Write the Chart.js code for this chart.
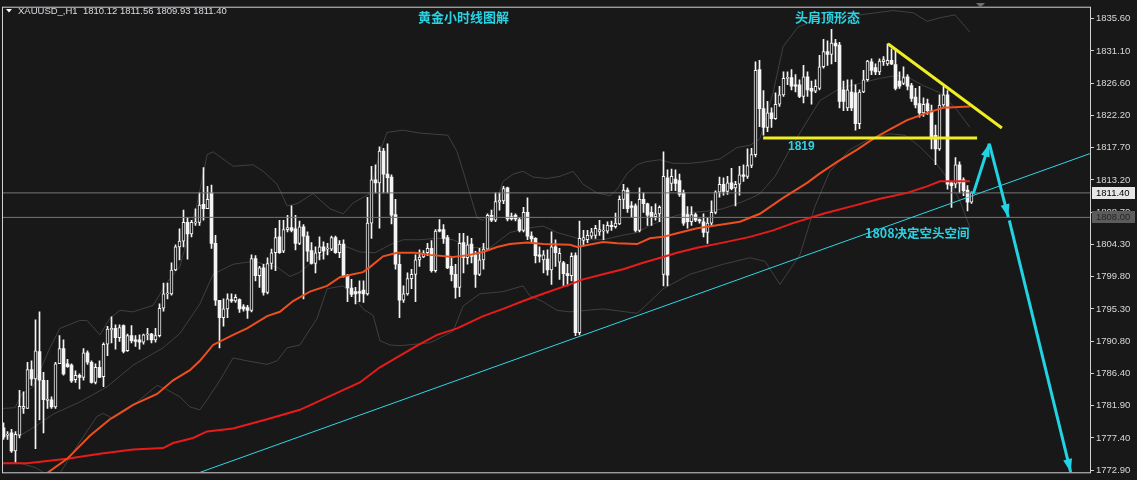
<!DOCTYPE html>
<html><head><meta charset="utf-8">
<script src="https://cdn.jsdelivr.net/npm/chart.js@4/dist/chart.umd.min.js"></script>
<style>html,body{margin:0;padding:0;background:#181818;overflow:hidden}#wrap{width:1137px;height:480px}</style>
</head><body><div id="wrap"><canvas id="c" width="1137" height="480"></canvas></div>
<script>
// ---------------- data ----------------
const symbolTitle = 'XAUUSD_,H1';
const lastBar = [1810.12, 1811.56, 1809.93, 1811.40];

const openP = [
1778.8,1777.8,1778.1,1775.6,1777.8,1781.5,1781.5,1786.9,1785.6,1789.4,
1785.4,1782.6,1782.7,1781.7,1787.7,1789.8,1787.7,1787.5,1785.5,1786.1,
1785.8,1789.2,1787.9,1785.1,1787.2,1785.9,1790.4,1792.4,1792.6,1791.3,
1793.0,1789.5,1791.6,1791.0,1791.0,1790.7,1791.7,1791.8,1791.0,1791.6,
1795.4,1797.4,1797.4,1800.7,1803.9,1804.7,1807.3,1805.7,1807.2,1807.3,
1809.8,1809.2,1811.4,1804.4,1796.5,1794.1,1795.3,1796.6,1796.4,1796.6,
1795.6,1795.5,1795.1,1802.3,1799.9,1801.0,1797.6,1801.6,1803.1,1805.3,
1803.3,1806.3,1806.6,1806.4,1804.4,1806.7,1805.4,1803.4,1801.6,1803.1,
1803.9,1803.6,1803.6,1805.2,1803.1,1804.3,1799.9,1798.2,1797.7,1797.7,
1797.9,1797.4,1807.2,1813.2,1812.8,1817.2,1814.0,1813.6,1808.4,1801.5,
1796.5,1797.4,1799.5,1800.1,1802.1,1802.5,1803.1,1803.7,1800.6,1806.3,
1806.3,1805.2,1801.2,1800.1,1798.3,1804.5,1802.4,1804.3,1802.8,1800.1,
1802.1,1803.6,1808.3,1807.6,1810.1,1810.3,1812.1,1808.1,1808.3,1807.7,
1806.2,1808.7,1805.4,1805.1,1802.8,1802.1,1802.2,1800.7,1803.9,1801.8,
1801.7,1800.2,1799.9,1802.7,1792.0,1804.8,1804.9,1805.4,1805.5,1806.0,
1806.1,1806.1,1806.9,1806.7,1807.1,1810.5,1811.8,1809.6,1809.6,1806.2,
1810.5,1809.9,1808.7,1808.1,1808.5,1800.1,1813.5,1812.7,1813.3,1813.1,
1811.4,1808.4,1807.4,1808.4,1807.7,1807.4,1805.9,1807.2,1808.7,1811.5,
1812.6,1811.6,1812.8,1812.1,1812.6,1813.9,1813.7,1815.2,1816.7,1828.5,
1823.1,1820.5,1822.5,1821.7,1823.7,1825.0,1827.3,1827.4,1826.4,1826.4,
1824.8,1827.5,1825.9,1825.5,1825.9,1828.9,1831.0,1830.6,1832.2,1831.9,
1825.7,1823.2,1825.4,1825.3,1821.0,1825.4,1827.1,1829.6,1828.8,1828.2,
1829.6,1829.3,1829.8,1829.2,1826.9,1826.6,1827.5,1826.3,1824.7,1823.8,
1822.5,1823.8,1822.8,1819.4,1817.5,1823.6,1825.0,1812.8,1812.6,1815.3,
1813.2,1811.8,1810.12];

const highP = [
1779.5,1778.3,1778.6,1778.3,1784.0,1783.8,1787.9,1788.1,1793.8,1794.9,
1786.5,1785.4,1783.1,1787.9,1791.6,1791.0,1788.3,1787.7,1786.7,1786.3,
1789.8,1789.5,1788.1,1787.7,1788.1,1790.6,1792.9,1794.2,1793.1,1793.1,
1793.1,1791.8,1793.0,1791.6,1791.7,1791.8,1792.6,1791.9,1792.6,1796.0,
1798.9,1798.9,1801.7,1804.2,1806.4,1809.0,1808.0,1807.6,1809.2,1811.4,
1814.9,1812.3,1812.5,1805.5,1796.5,1796.7,1797.4,1797.4,1797.3,1796.7,
1795.9,1795.8,1802.8,1802.7,1801.2,1801.5,1802.4,1803.6,1806.5,1807.6,
1807.6,1808.3,1809.6,1808.3,1807.5,1807.0,1806.0,1804.5,1803.9,1805.3,
1804.6,1804.4,1805.4,1805.4,1804.8,1804.9,1800.1,1799.4,1798.3,1799.2,
1799.2,1810.8,1815.1,1815.3,1817.8,1817.6,1818.2,1813.9,1810.5,1802.8,
1798.5,1800.3,1800.8,1802.8,1803.5,1803.4,1804.4,1804.8,1806.3,1807.7,
1807.0,1805.5,1802.4,1801.5,1805.8,1805.8,1805.4,1805.1,1803.3,1803.7,
1804.4,1808.5,1809.0,1811.4,1811.4,1812.3,1812.2,1808.6,1808.5,1808.0,
1809.4,1810.7,1806.0,1805.2,1803.9,1803.4,1803.5,1806.0,1804.9,1803.7,
1801.9,1801.5,1803.1,1803.1,1807.5,1806.2,1806.2,1806.5,1806.9,1807.6,
1807.0,1807.4,1807.5,1808.6,1811.0,1812.6,1812.1,1810.2,1809.9,1812.1,
1811.4,1810.0,1809.5,1809.9,1809.6,1817.1,1814.6,1814.7,1814.6,1814.0,
1811.8,1809.5,1809.5,1808.6,1807.8,1808.5,1808.0,1810.3,1811.7,1813.6,
1813.5,1813.7,1814.8,1813.0,1815.1,1815.3,1817.5,1817.6,1829.6,1829.8,
1825.6,1824.1,1823.2,1825.3,1826.2,1828.2,1828.2,1828.5,1827.8,1827.1,
1829.1,1828.2,1826.9,1827.1,1830.5,1832.7,1832.5,1834.1,1832.7,1832.3,
1826.9,1827.1,1827.1,1826.4,1825.7,1828.4,1829.8,1830.0,1829.3,1830.0,
1830.3,1832.1,1831.4,1831.4,1828.2,1828.9,1827.8,1826.6,1825.9,1826.2,
1824.6,1824.4,1823.6,1820.8,1825.0,1826.2,1825.6,1813.0,1816.3,1815.7,
1813.5,1812.4,1811.56];

const lowP = [
1777.2,1777.2,1775.4,1774.0,1777.4,1780.8,1781.5,1784.7,1775.9,1779.9,
1778.1,1781.5,1781.5,1781.5,1787.7,1786.1,1787.2,1785.1,1785.1,1784.2,
1785.4,1787.6,1785.0,1784.9,1785.8,1784.5,1788.8,1790.6,1789.7,1790.8,
1789.2,1789.4,1790.6,1790.1,1789.7,1790.4,1791.0,1790.6,1790.7,1791.4,
1795.0,1796.7,1797.2,1800.6,1802.1,1803.9,1802.2,1805.3,1806.9,1806.9,
1807.6,1809.2,1803.7,1795.8,1789.9,1792.9,1794.1,1796.2,1796.2,1794.8,
1795.0,1794.0,1794.9,1799.2,1798.3,1797.2,1797.4,1800.8,1800.6,1803.0,
1803.1,1806.0,1806.0,1803.5,1804.2,1796.7,1801.9,1801.5,1800.3,1802.1,
1802.2,1802.8,1803.4,1803.0,1802.4,1799.7,1796.3,1797.0,1796.0,1796.3,
1796.2,1797.2,1805.1,1811.4,1806.5,1811.4,1811.4,1807.1,1800.8,1794.1,
1796.2,1797.2,1798.1,1796.3,1801.2,1802.4,1802.7,1800.4,1800.4,1806.0,
1804.4,1800.9,1799.2,1796.8,1797.0,1800.3,1801.5,1801.7,1798.3,1799.9,
1800.8,1803.5,1807.4,1807.4,1809.0,1809.9,1807.5,1807.6,1807.5,1806.0,
1806.0,1804.9,1804.5,1801.7,1801.8,1800.3,1800.0,1798.7,1801.2,1799.4,
1798.4,1798.5,1799.2,1791.6,1791.7,1804.0,1804.5,1805.1,1805.1,1805.5,
1804.9,1805.8,1806.2,1806.5,1807.0,1809.2,1808.7,1808.0,1806.0,1806.0,
1808.7,1806.9,1806.9,1807.6,1807.4,1798.5,1798.5,1811.7,1811.7,1810.9,
1806.9,1806.5,1806.9,1807.4,1807.2,1805.3,1804.4,1806.9,1808.5,1810.8,
1811.1,1811.2,1811.8,1809.6,1811.1,1813.0,1813.4,1814.9,1816.4,1820.6,
1819.4,1819.9,1820.5,1821.6,1823.4,1824.8,1826.4,1825.7,1825.4,1824.6,
1823.9,1824.8,1823.7,1825.3,1825.7,1828.7,1829.1,1829.3,1829.6,1823.2,
1822.8,1822.8,1822.8,1820.1,1820.3,1825.3,1826.9,1827.8,1827.8,1827.8,
1829.1,1829.1,1829.2,1825.7,1825.9,1826.4,1825.7,1824.1,1823.2,1821.9,
1822.0,1822.3,1817.5,1815.3,1817.3,1823.4,1811.9,1809.4,1812.1,1811.4,
1811.0,1808.9,1809.93];

const closeP = [
1777.5,1777.9,1775.6,1777.9,1781.8,1781.8,1786.9,1785.6,1789.5,1785.4,
1782.7,1782.8,1781.7,1787.7,1789.8,1786.3,1787.3,1785.3,1786.1,1785.8,
1789.2,1787.9,1785.1,1787.2,1785.8,1790.4,1792.5,1792.6,1791.3,1792.7,
1789.4,1791.6,1790.9,1790.8,1790.7,1791.7,1791.8,1791.0,1791.6,1795.4,
1797.4,1797.5,1800.7,1803.9,1804.7,1807.3,1805.7,1807.3,1807.4,1809.7,
1809.2,1810.5,1804.4,1796.5,1794.1,1795.3,1796.7,1796.4,1796.9,1795.3,
1795.3,1795.1,1802.3,1799.9,1801.0,1797.6,1801.6,1803.1,1805.2,1803.1,
1806.3,1806.6,1806.2,1804.4,1806.7,1805.4,1803.3,1801.6,1803.1,1803.9,
1803.3,1803.7,1805.2,1803.1,1804.3,1799.9,1798.2,1797.3,1797.4,1797.5,
1797.4,1807.2,1813.2,1812.8,1817.2,1814.0,1813.5,1808.3,1801.5,1796.5,
1797.4,1799.5,1800.1,1802.1,1802.5,1803.1,1803.7,1800.6,1806.1,1806.1,
1805.1,1801.0,1800.1,1798.3,1804.4,1802.4,1804.2,1802.6,1800.1,1802.1,
1803.6,1808.3,1807.6,1810.2,1810.4,1812.0,1807.8,1807.8,1807.8,1806.2,
1808.7,1805.4,1805.0,1802.7,1802.6,1802.8,1800.7,1803.9,1803.1,1803.0,
1800.2,1799.9,1802.6,1792.0,1805.1,1805.2,1805.5,1806.0,1806.5,1806.3,
1806.2,1806.9,1806.7,1807.2,1810.5,1811.8,1809.2,1809.4,1806.2,1810.5,
1809.9,1808.3,1808.1,1808.5,1809.4,1813.7,1800.0,1813.7,1812.7,1811.2,
1807.2,1807.4,1808.4,1807.6,1807.5,1805.9,1807.2,1808.7,1811.5,1812.6,
1811.6,1812.8,1812.0,1812.6,1813.9,1813.7,1815.2,1816.7,1828.4,1823.1,
1820.5,1822.5,1821.7,1823.7,1825.0,1827.3,1827.4,1826.2,1826.2,1824.8,
1827.5,1825.7,1825.5,1826.2,1828.9,1831.0,1830.6,1832.2,1831.8,1824.1,
1824.1,1825.7,1823.2,1821.0,1825.4,1827.1,1829.7,1828.4,1828.2,1829.7,
1829.9,1829.8,1829.3,1825.9,1826.2,1827.4,1826.2,1824.5,1823.6,1822.5,
1823.7,1822.8,1818.9,1817.5,1823.6,1825.0,1812.6,1812.4,1815.3,1812.8,
1811.7,1810.1,1811.40];

const yTicks = [1772.90,1777.40,1781.90,1786.40,1790.80,1795.30,1799.80,1804.30,1808.70,1813.20,1817.70,1822.20,1826.60,1831.10,1835.60];
const priceLines = [1811.40, 1808.00];

// Bollinger bands [bar index, price]
const bbUpper = [[-0.1,1781.5],[2.9,1781.6],[4.6,1783.5],[7.4,1784.5],[11.6,1789.9],[14.1,1792.6],[19.1,1793.7],[20.9,1793.7],[24.1,1791.7],[26.6,1794.0],[29.1,1795.1],[32.4,1794.9],[37.4,1795.8],[40.9,1799.0],[44.1,1801.2],[46.6,1806.2],[48.4,1809.9],[50.9,1816.7],[52.4,1817.1],[57.4,1815.1],[62.4,1815.3],[64.9,1814.4],[68.4,1812.6],[70.9,1809.6],[73.4,1809.9],[77.4,1811.3],[81.6,1809.2],[84.9,1808.5],[87.4,1810.0],[91.6,1811.3],[94.1,1817.1],[95.9,1819.8],[99.9,1820.1],[104.1,1819.7],[111.1,1819.4],[113.4,1817.1],[115.9,1812.6],[118.4,1807.9],[119.9,1807.6],[122.4,1808.9],[124.9,1813.0],[127.4,1814.0],[129.9,1814.4],[132.4,1813.6],[135.9,1813.4],[139.1,1813.7],[142.4,1814.4],[144.9,1812.6],[148.4,1811.4],[151.6,1811.0],[153.4,1811.9],[155.9,1814.1],[158.4,1815.3],[160.4,1815.7],[164.1,1816.0],[167.4,1815.5],[171.6,1815.5],[174.9,1815.7],[179.1,1816.1],[183.4,1817.7],[186.6,1818.0],[189.1,1818.9],[192.4,1825.3],[194.9,1831.7],[198.6,1834.4],[203.4,1835.5],[208.4,1835.9],[214.1,1836.1],[222.4,1836.7],[227.4,1836.4],[230.9,1835.2],[234.1,1835.7],[237.9,1836.1],[241.6,1833.7]];
const bbMiddle = [[-0.1,1777.7],[4.1,1777.7],[7.9,1779.0],[12.4,1780.7],[19.1,1782.4],[25.9,1784.5],[32.4,1787.5],[39.9,1789.9],[44.1,1791.9],[49.1,1796.0],[52.4,1800.1],[57.4,1801.5],[62.4,1801.9],[68.4,1801.1],[71.6,1799.8],[74.1,1800.4],[78.4,1802.4],[82.4,1803.5],[85.9,1803.9],[89.1,1803.2],[92.9,1803.1],[96.6,1804.2],[99.9,1804.9],[104.1,1804.9],[108.4,1805.1],[112.4,1804.9],[116.6,1803.8],[121.6,1803.8],[126.6,1805.9],[130.9,1806.5],[134.9,1806.8],[138.4,1805.9],[141.6,1805.4],[144.9,1804.9],[149.9,1804.9],[154.6,1805.5],[158.4,1805.9],[161.6,1806.9],[164.9,1807.6],[168.4,1808.3],[172.4,1808.7],[176.6,1808.9],[179.9,1809.2],[183.4,1809.9],[186.6,1810.6],[189.1,1811.3],[192.9,1813.7],[196.6,1817.4],[200.4,1820.9],[204.1,1824.2],[209.1,1825.9],[214.1,1826.6],[219.1,1827.3],[223.4,1827.7],[226.6,1827.3],[229.9,1826.3],[234.1,1825.3],[237.9,1823.2],[241.6,1820.5]];
const bbLower = [[-0.1,1773.9],[4.1,1773.9],[7.9,1773.3],[10.4,1772.5],[14.1,1772.5],[16.6,1774.7],[18.4,1776.3],[23.4,1780.4],[24.9,1780.8],[27.4,1780.1],[30.9,1781.3],[34.1,1782.7],[38.4,1784.7],[40.9,1784.1],[44.1,1783.1],[46.6,1781.7],[49.1,1781.3],[50.9,1782.7],[54.1,1785.4],[57.4,1788.5],[60.9,1788.1],[65.9,1787.6],[68.4,1788.1],[70.9,1789.9],[74.1,1790.3],[78.4,1794.0],[80.9,1798.1],[84.9,1798.5],[87.4,1797.1],[89.9,1795.3],[92.4,1794.4],[94.1,1790.9],[96.6,1790.3],[99.1,1790.2],[106.6,1790.6],[112.4,1792.2],[114.9,1795.7],[119.1,1797.4],[124.9,1797.7],[129.9,1798.5],[131.6,1797.1],[134.9,1796.3],[138.4,1795.1],[141.6,1794.9],[149.9,1795.3],[158.4,1794.7],[161.6,1796.3],[164.9,1798.1],[171.6,1800.1],[179.9,1801.5],[186.6,1802.4],[190.4,1801.9],[194.1,1798.7],[199.1,1802.8],[202.9,1809.6],[206.6,1814.4],[211.6,1817.4],[216.6,1818.9],[221.6,1819.6],[225.4,1819.4],[229.1,1817.8],[232.9,1815.7],[236.6,1813.0],[239.1,1810.3],[241.6,1806.6]];

// Moving averages [bar index, price]
const maFast = [[10.0,1771.8],[11.1,1772.6],[15.9,1774.5],[21.6,1777.7],[26.6,1780.0],[32.4,1782.0],[38.4,1783.5],[42.4,1785.4],[46.6,1786.8],[49.1,1788.1],[52.4,1790.3],[57.4,1791.7],[60.9,1792.6],[65.9,1794.3],[69.1,1794.9],[72.4,1796.4],[76.6,1797.7],[80.9,1798.5],[84.1,1799.7],[87.4,1800.1],[89.9,1800.4],[91.6,1801.1],[94.9,1802.6],[98.4,1803.1],[102.9,1803.1],[106.6,1802.8],[112.4,1802.5],[116.6,1802.8],[119.9,1803.2],[123.4,1803.9],[126.6,1804.3],[130.9,1804.5],[134.9,1804.3],[141.6,1804.2],[143.4,1803.9],[149.9,1804.6],[153.4,1804.4],[158.4,1804.3],[161.6,1805.1],[164.9,1805.3],[168.4,1805.8],[173.4,1806.5],[178.4,1806.9],[184.1,1807.4],[189.1,1808.5],[194.9,1810.7],[200.9,1812.8],[204.1,1814.1],[208.4,1815.7],[213.4,1817.4],[217.4,1818.9],[221.6,1820.2],[225.9,1821.5],[230.9,1822.5],[234.9,1823.2],[241.6,1823.4]];
const maSlow = [[-0.1,1773.9],[5.9,1773.9],[15.9,1774.5],[24.1,1775.2],[32.4,1775.8],[39.9,1776.0],[42.4,1776.7],[47.4,1777.4],[50.9,1778.3],[57.4,1778.7],[65.9,1780.0],[74.1,1781.3],[82.4,1783.4],[89.1,1785.1],[94.1,1787.2],[103.4,1790.2],[108.4,1791.7],[113.4,1792.6],[119.9,1794.3],[124.9,1795.3],[129.9,1796.4],[134.9,1797.4],[141.6,1798.7],[144.9,1799.4],[149.9,1800.1],[154.9,1800.8],[159.9,1801.7],[164.9,1802.5],[168.4,1803.1],[173.4,1803.8],[179.9,1804.5],[186.6,1805.3],[192.4,1806.2],[197.4,1807.2],[204.9,1808.5],[212.4,1809.6],[219.1,1810.6],[225.9,1811.4],[230.9,1812.3],[234.1,1813.0],[241.6,1813.0]];

// Drawn analysis objects [bar index, price]
const trendSupport = [[49.0,1772.6],[271.6,1816.85]];
const neckline = [[189.9,1819.0],[243.4,1819.0]];
const shoulderLine = [[221.1,1832.1],[249.6,1820.4]];
const arrowUp = [[242.45,1811.3],[246.45,1818.23]];
const arrowDown1 = [[246.45,1818.23],[251.2,1808.03]];
const arrowDown2 = [[251.45,1807.58],[266.8,1772.67]];

const titleMain = '黄金小时线图解';
const titlePattern = '头肩顶形态';
const labelNeck = '1819';
const labelKey = '1808决定空头空间';

// ---------------- chart ----------------
const X_MIN = -0.125, X_MAX = 271.625, Y_MIN = 1772.633, Y_MAX = 1837.096;
const BG = '#181818', CANDLE = '#f4f4f4', CYAN = '#22d3e3', TEXT_CYAN = '#2ad2e2', YELLOW = '#eeee22';

const idx = openP.map((_, i) => i);
const isBull = idx.map(i => closeP[i] >= openP[i]);
const wickData = idx.map(i => ({x: i, y: [lowP[i], highP[i]]}));
const bodyData = idx.map(i => ({x: i, y: [Math.min(openP[i], closeP[i]), Math.max(openP[i], closeP[i])]}));
const pts = arr => arr.map(([x, y]) => ({x, y}));
const line = (label, arr, color, width, order, extra) => Object.assign({
  type: 'line', label, data: pts(arr), borderColor: color, backgroundColor: color,
  borderWidth: width, pointRadius: 0, tension: 0, fill: false, order
}, extra || {});

const datasets = [
  line('BB upper', bbUpper, '#404040', 1, 12),
  line('BB middle', bbMiddle, '#404040', 1, 12),
  line('BB lower', bbLower, '#404040', 1, 12),
  {type: 'bar', label: 'wick', data: wickData, backgroundColor: CANDLE, borderWidth: 0,
   barThickness: 1, grouped: false, order: 9},
  {type: 'bar', label: 'body', data: bodyData,
   backgroundColor: isBull.map(b => b ? BG : CANDLE), borderColor: CANDLE,
   borderWidth: isBull.map(b => b ? 1 : 0), borderSkipped: false,
   barThickness: 3, grouped: false, minBarLength: 1, order: 8},
  line('price1', [[X_MIN, priceLines[0]], [X_MAX, priceLines[0]]], '#767676', 1, 7),
  line('price2', [[X_MIN, priceLines[1]], [X_MAX, priceLines[1]]], '#767676', 1, 7),
  line('MA fast', maFast, '#ee4f1e', 2, 6),
  line('MA slow', maSlow, '#e81b1b', 2, 6),
  line('support', trendSupport, '#30d6e6', 1, 5),
  line('neckline', neckline, YELLOW, 3, 4),
  line('shoulder', shoulderLine, YELLOW, 3, 4),
  line('arrowUp', arrowUp, CYAN, 3, 3, {arrowHead: true}),
  line('arrowDown1', arrowDown1, CYAN, 3, 3, {arrowHead: true}),
  line('arrowDown2', arrowDown2, CYAN, 3, 3, {arrowHead: true})
];

const overlay = {
  id: 'overlay',
  beforeDraw(chart) {
    const c = chart.ctx;
    c.save(); c.fillStyle = BG; c.fillRect(0, 0, chart.width, chart.height); c.restore();
  },
  afterDatasetsDraw(chart) {
    const c = chart.ctx, a = chart.chartArea;
    c.save();
    c.beginPath(); c.rect(a.left, a.top, a.right - a.left, a.bottom - a.top); c.clip();
    chart.data.datasets.forEach((ds, di) => {
      if (!ds.arrowHead) return;
      const el = chart.getDatasetMeta(di).data;
      const p1 = el[el.length - 2], p2 = el[el.length - 1];
      const ang = Math.atan2(p2.y - p1.y, p2.x - p1.x);
      const L = 13, W = 4.5;
      const bx = p2.x - L * Math.cos(ang), by = p2.y - L * Math.sin(ang);
      c.fillStyle = ds.borderColor;
      c.beginPath();
      c.moveTo(p2.x, p2.y);
      c.lineTo(bx + W * Math.sin(ang), by - W * Math.cos(ang));
      c.lineTo(bx - W * Math.sin(ang), by + W * Math.cos(ang));
      c.closePath(); c.fill();
    });
    c.restore();
  },
  afterDraw(chart) {
    const c = chart.ctx, a = chart.chartArea, ys = chart.scales.y;
    c.save();
    // frame
    c.strokeStyle = '#d2d2d2'; c.lineWidth = 1;
    c.strokeRect(a.left - 0.5, a.top - 0.5, a.right - a.left + 1, a.bottom - a.top + 1);
    // price boxes
    c.font = '9.5px "Liberation Sans", Arial, sans-serif';
    c.textBaseline = 'middle'; c.textAlign = 'left';
    [[priceLines[0], '#e6e6e6', '#000000'], [priceLines[1], '#5c5c5c', '#262626']].forEach(([v, bg, fg]) => {
      const py = Math.round(ys.getPixelForValue(v));
      c.fillStyle = bg; c.fillRect(a.right + 2, py - 6, 43, 12);
      c.fillStyle = fg; c.fillText(v.toFixed(2), a.right + 6, py + 0.5);
    });
    // header
    c.fillStyle = '#ffffff';
    c.beginPath(); c.moveTo(6, 9); c.lineTo(12, 9); c.lineTo(9, 12.5); c.closePath(); c.fill();
    c.fillStyle = '#d8dce2';
    c.font = '9.5px "Liberation Sans", Arial, sans-serif';
    c.fillText(symbolTitle + '  ' + lastBar.map(v => v.toFixed(2)).join(' '), 18, 11);
    // shift marker
    c.fillStyle = '#6e6e6e';
    c.beginPath(); c.moveTo(976, 3); c.lineTo(985, 3); c.lineTo(980.5, 7.5); c.closePath(); c.fill();
    // annotations
    c.fillStyle = TEXT_CYAN;
    c.font = 'bold 13px "Noto Sans CJK SC", sans-serif';
    c.fillText(titleMain, 418, 17);
    c.fillText(titlePattern, 795, 17);
    c.font = 'bold 12.5px "Noto Sans CJK SC", sans-serif';
    c.fillText(labelKey, 865, 233);
    c.font = 'bold 12px "Liberation Sans", Arial, sans-serif';
    c.fillText(labelNeck, 788, 147);
    c.restore();
  }
};

new Chart(document.getElementById('c'), {
  type: 'bar',
  data: {datasets},
  plugins: [overlay],
  options: {
    responsive: false, animation: false, devicePixelRatio: 1, events: [],
    layout: {padding: {left: 3, top: 3, bottom: 3, right: 0}, autoPadding: false},
    plugins: {legend: {display: false}, tooltip: {enabled: false}, title: {display: false}},
    scales: {
      x: {type: 'linear', min: X_MIN, max: X_MAX, offset: false, display: false, bounds: 'data'},
      y: {
        type: 'linear', position: 'right', min: Y_MIN, max: Y_MAX, bounds: 'data',
        afterBuildTicks: s => { s.ticks = yTicks.map(v => ({value: v})); },
        afterFit: s => { s.width = 47; },
        ticks: {color: '#d8d8d8', autoSkip: false, padding: 2,
          font: {family: '"Liberation Sans", Arial, sans-serif', size: 9.5},
          callback: v => Number(v).toFixed(2)},
        grid: {drawOnChartArea: false, drawTicks: true, tickLength: 4, color: '#cfcfcf'},
        border: {display: false}
      }
    }
  }
});
</script>
</body></html>
